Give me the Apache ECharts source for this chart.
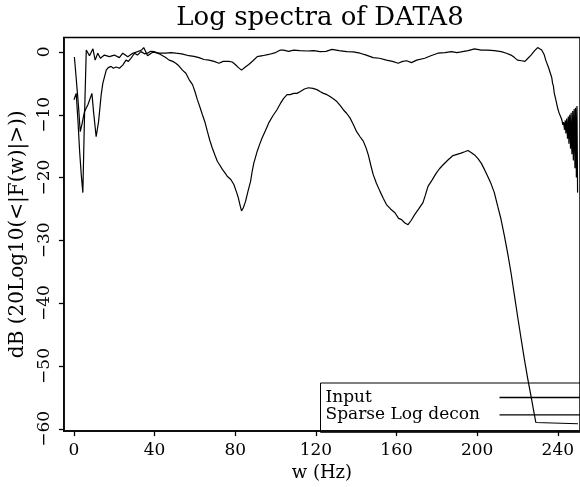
<!DOCTYPE html>
<html>
<head>
<meta charset="utf-8">
<script src="https://cdn.jsdelivr.net/npm/echarts@6/dist/echarts.min.js"></script>
<style>
html,body{margin:0;padding:0;background:#fff;}
#chart{width:580px;height:487px;}
</style>
</head>
<body>
<div id="chart"></div>
<script>
const titleText = 'Log spectra of DATA8';
const xName = 'w (Hz)';
const yName = 'dB (20Log10(<|F(w)|>))';
const seriesNames = ['Input', 'Sparse Log decon'];
const xTicks = [0, 40, 80, 120, 160, 200, 240];
const yTicks = [-60, -50, -40, -30, -20, -10, 0];

// Input spectrum [frequency Hz, dB]
const inputData = [
[0.2,-0.8],[1.1,-4.2],[2.3,-8.9],[3.1,-12.7],[3.9,-11.6],[5.2,-9.5],[6.9,-8.4],[7.7,-8.2],
[8.9,-6.6],[9.7,-9.5],[11.0,-13.5],[12.2,-11.1],[13.5,-6.8],[14.3,-5.0],[16.0,-2.9],[17.0,-2.5],
[18.4,-2.3],[19.5,-2.6],[20.9,-2.4],[22.5,-2.6],[24.2,-2.1],[25.8,-1.3],[27.0,-1.5],[28.3,-1.0],
[30.0,-0.2],[31.5,-0.5],[33.2,0.05],[35.0,-0.3],[36.5,-0.2],[38.0,0.1],[39.8,0.05],[40.7,-0.2],
[42.3,-0.3],[44.0,-0.6],[45.5,-0.9],[47.2,-1.3],[49.0,-1.5],[50.5,-1.8],[52.0,-2.2],[53.8,-2.9],
[55.5,-3.4],[57.1,-4.4],[58.8,-5.2],[60.0,-6.3],[61.2,-7.6],[62.5,-8.8],[63.7,-10.0],[65.0,-11.2],
[66.2,-12.7],[67.4,-14.1],[68.6,-15.3],[70.0,-16.5],[71.1,-17.4],[72.3,-18.0],[73.6,-18.7],[75.0,-19.3],
[76.0,-19.8],[77.8,-20.3],[79.3,-21.1],[80.5,-22.2],[81.5,-23.2],[82.3,-24.3],[83.1,-25.3],[84.0,-24.8],
[85.1,-23.8],[86.3,-22.2],[87.6,-20.6],[88.4,-19.0],[89.2,-17.7],[90.9,-15.8],[92.0,-14.8],[93.3,-13.7],
[95.0,-12.5],[96.6,-11.3],[98.6,-10.2],[100.7,-9.2],[102.4,-8.2],[104.0,-7.4],[105.7,-6.8],[107.2,-6.8],
[109.0,-6.6],[110.6,-6.6],[112.3,-6.3],[114.3,-5.9],[116.3,-5.7],[118.5,-5.8],[120.5,-6.0],[122.0,-6.3],
[123.8,-6.6],[125.5,-6.8],[127.0,-7.1],[128.8,-7.5],[130.4,-7.9],[132.0,-8.5],[133.6,-9.2],[135.3,-9.8],
[136.9,-10.5],[138.5,-11.5],[140.2,-12.7],[141.9,-13.5],[143.5,-14.2],[144.8,-15.2],[146.0,-16.4],[147.2,-18.0],
[148.4,-19.5],[150.0,-20.9],[151.8,-22.2],[153.4,-23.3],[155.0,-24.3],[157.0,-25.0],[159.2,-25.6],[161.0,-26.5],
[162.5,-26.7],[164.0,-27.2],[165.7,-27.5],[167.3,-26.8],[169.0,-25.9],[171.0,-25.0],[173.1,-24.0],[174.3,-22.8],
[175.6,-21.4],[177.6,-20.4],[179.7,-19.3],[181.3,-18.6],[183.0,-18.0],[185.5,-17.2],[188.0,-16.5],[190.0,-16.3],
[192.0,-16.1],[193.8,-15.9],[195.4,-15.7],[197.0,-16.0],[198.7,-16.4],[200.4,-17.0],[202.0,-17.7],[203.6,-18.7],
[205.2,-19.8],[206.9,-21.0],[208.5,-22.4],[210.2,-24.6],[211.8,-26.6],[213.5,-29.3],[215.2,-32.2],[216.8,-35.2],
[218.4,-38.6],[220.0,-42.0],[221.7,-45.5],[223.4,-48.9],[225.0,-51.9],[226.7,-54.8],[228.0,-57.1],[229.1,-59.0],
[229.6,-59.2],[250.0,-59.2]
];

// Sparse Log decon spectrum [frequency Hz, dB]
const deconData = [
[0.0,-7.6],[1.1,-6.6],[2.0,-11.1],[2.8,-15.8],[3.6,-19.5],[4.4,-22.4],[5.2,-10.5],[6.1,0.3],
[7.7,-0.6],[9.4,0.5],[10.5,-1.3],[11.8,-0.2],[13.1,-1.0],[15.1,-0.5],[17.6,-0.75],[20.0,-0.5],
[22.5,-0.9],[24.2,-0.2],[26.7,-0.75],[29.1,-0.2],[31.6,0.05],[33.5,0.3],[34.6,0.7],[36.5,-0.6],
[39.0,-0.05],[42.3,-0.2],[45.6,-0.2],[48.0,-0.1],[50.5,-0.2],[53.5,-0.3],[57.0,-0.6],[59.5,-0.7],
[62.0,-0.9],[64.5,-1.2],[67.0,-1.3],[69.5,-1.5],[71.9,-1.8],[74.0,-1.5],[76.8,-1.5],[78.5,-1.6],
[80.0,-2.0],[81.6,-2.5],[83.1,-2.9],[85.0,-2.4],[86.7,-2.0],[88.8,-1.4],[90.9,-0.75],[93.5,-0.6],
[96.6,-0.4],[100.0,-0.1],[102.4,0.3],[104.0,0.3],[106.5,0.1],[109.0,0.3],[112.0,0.2],[115.6,0.15],
[119.0,0.2],[122.0,0.05],[125.0,0.1],[128.0,0.4],[131.5,0.2],[135.3,0.05],[138.5,0.0],[141.9,-0.2],
[145.0,-0.5],[148.4,-0.9],[151.5,-1.0],[155.0,-1.3],[158.0,-1.5],[160.8,-1.8],[163.0,-1.5],[165.0,-1.4],
[167.4,-1.7],[170.0,-1.3],[174.0,-1.0],[177.0,-0.6],[180.5,-0.2],[184.0,-0.1],[187.2,0.05],[190.0,-0.1],
[192.0,0.0],[195.5,0.2],[198.7,0.5],[202.0,0.3],[205.2,0.3],[208.5,0.2],[211.9,0.05],[214.5,-0.2],
[216.8,-0.5],[218.5,-0.9],[220.0,-1.3],[222.0,-1.4],[223.7,-1.5],[225.2,-1.0],[226.7,-0.5],[228.5,0.2],
[230.0,0.7],[230.8,0.85],[232.0,0.3],[233.2,-0.4],[234.0,-1.3],[234.6,-1.6],[235.3,-2.4],[235.9,-2.7],
[236.5,-3.6],[237.0,-4.1],[237.4,-5.0],[237.8,-5.4],[238.2,-6.5],[238.6,-6.8],[239.0,-7.6],[239.4,-7.9],
[239.8,-8.8],[240.2,-9.0],[240.6,-9.7],[241.1,-9.9],[241.5,-10.4],[242.0,-10.8],[242.5,-11.6],
[242.9,-11.2],[243.3,-12.4],[243.7,-10.9],[244.0,-13.0],[244.4,-10.6],[244.8,-13.8],[245.2,-10.3],
[245.5,-14.6],[245.9,-10.0],[246.3,-15.4],[246.6,-9.7],[247.0,-16.3],[247.4,-9.4],[247.7,-17.3],
[248.1,-9.1],[248.5,-18.5],[248.8,-8.9],[249.2,-20.0],[249.5,-8.6],[249.8,-22.4]
];

const FONT = 'DejaVu Serif';
const chart = echarts.init(document.getElementById('chart'), null, {renderer: 'canvas'});
const minus = v => String(v).replace('-', '\u2212');

chart.setOption({
  animation: false,
  backgroundColor: '#fff',
  title: {
    text: titleText,
    left: 320,
    textAlign: 'center',
    top: 5,
    padding: 0,
    textStyle: {fontFamily: FONT, fontSize: 26, fontWeight: 'normal', color: '#000'}
  },
  legend: {
    data: seriesNames,
    orient: 'vertical',
    left: 320.5,
    top: 383,
    align: 'right',
    icon: 'rect',
    padding: [6, 0, 9, 5],
    itemGap: 0.3,
    itemWidth: 95,
    itemHeight: 1.3,
    itemStyle: {color: '#000', borderWidth: 0},
    borderColor: '#000',
    borderWidth: 1,
    backgroundColor: 'transparent',
    inactiveColor: '#000',
    selectedMode: false,
    formatter: '{a|{name}}',
    textStyle: {
      fontFamily: FONT, fontSize: 17, color: '#000',
      rich: {a: {width: 169, height: 14, align: 'left', fontFamily: FONT, fontSize: 17, lineHeight: 14, color: '#000'}}
    }
  },
  grid: {
    left: 62.6, top: 37.5, width: 518.4, height: 394.5,
    show: true, borderColor: '#000', borderWidth: 1.5, backgroundColor: 'transparent'
  },
  xAxis: {
    type: 'value',
    min: -5, max: 251,
    name: xName,
    nameLocation: 'middle',
    nameGap: 31,
    nameTextStyle: {fontFamily: FONT, fontSize: 18, color: '#000'},
    axisLine: {show: true, onZero: false, lineStyle: {color: '#000', width: 1.5}},
    axisTick: {show: true, inside: false, length: 5, customValues: xTicks, lineStyle: {color: '#000', width: 1.3}},
    axisLabel: {customValues: xTicks, margin: 11, fontFamily: FONT, fontSize: 17, color: '#000', formatter: minus},
    splitLine: {show: false}
  },
  yAxis: {
    type: 'value',
    min: -60.37, max: 2.3,
    name: yName,
    nameLocation: 'middle',
    nameRotate: 90,
    nameGap: 31,
    nameTextStyle: {fontFamily: FONT, fontSize: 20, color: '#000'},
    axisLine: {show: true, onZero: false, lineStyle: {color: '#000', width: 1.5}},
    axisTick: {show: true, inside: false, length: 5, customValues: yTicks, lineStyle: {color: '#000', width: 1.3}},
    axisLabel: {customValues: yTicks, rotate: 90, margin: 11, fontFamily: FONT, fontSize: 17, color: '#000', formatter: minus},
    splitLine: {show: false}
  },
  series: [
    {name: seriesNames[0], type: 'line', data: inputData, symbol: 'none', clip: true,
     lineStyle: {color: '#000', width: 1.2}, itemStyle: {color: '#000'}},
    {name: seriesNames[1], type: 'line', data: deconData, symbol: 'none', clip: true,
     lineStyle: {color: '#000', width: 1.2}, itemStyle: {color: '#000'}}
  ]
});
</script>
</body>
</html>
